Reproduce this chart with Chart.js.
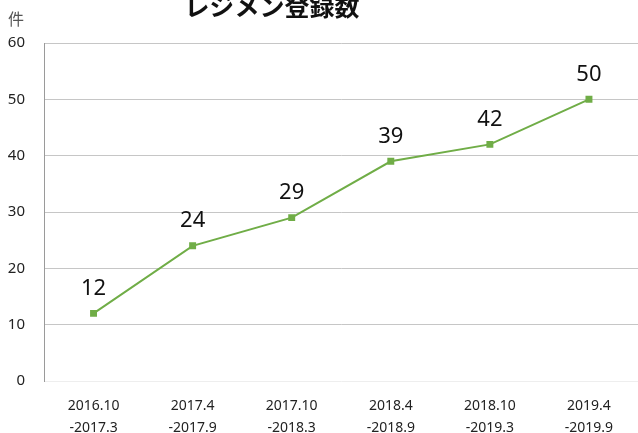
<!DOCTYPE html>
<html>
<head>
<meta charset="utf-8">
<script src="https://cdn.jsdelivr.net/npm/chart.js@4/dist/chart.umd.min.js"></script>
<style>
  html, body { margin: 0; padding: 0; background: #fff; overflow: hidden; }
  #wrap { position: absolute; left: 0; top: 0; width: 644px; height: 433px; }
</style>
</head>
<body>
<div id="wrap"><canvas id="regimen-chart"></canvas></div>
<script>
// 半期ごとのレジメン登録数
const periods = [
    ["2016.10", "-2017.3"],
    ["2017.4", "-2017.9"],
    ["2017.10", "-2018.3"],
    ["2018.4", "-2018.9"],
    ["2018.10", "-2019.3"],
    ["2019.4", "-2019.9"]
];
const counts = [12, 24, 29, 39, 42, 50];
const yTicks = [0, 10, 20, 30, 40, 50, 60];

const FONT = "'Noto Sans', 'Noto Sans CJK JP', sans-serif";

// 各点の上に値を描く
const valueLabels = {
    id: "valueLabels",
    afterDatasetsDraw(chart) {
        const ctx = chart.ctx;
        const meta = chart.getDatasetMeta(0);
        ctx.save();
        ctx.font = "22px " + FONT;
        ctx.fillStyle = "#111";
        ctx.textAlign = "center";
        ctx.textBaseline = "middle";
        meta.data.forEach(function (pt, i) {
            ctx.fillText(String(counts[i]), pt.x, pt.y - 25);
        });
        ctx.restore();
    }
};

// タイトルと単位
const headerText = {
    id: "headerText",
    afterDraw(chart) {
        const ctx = chart.ctx;
        ctx.save();
        ctx.textAlign = "center";
        ctx.textBaseline = "middle";
        ctx.fillStyle = "#111";
        ctx.font = "bold 25px 'Noto Sans CJK JP', sans-serif";
        ctx.fillText("レジメン登録数", 272, 6);
        ctx.fillStyle = "#555";
        ctx.font = "16px 'Noto Sans CJK JP', sans-serif";
        ctx.fillText("件", 16, 19);
        ctx.restore();
    }
};

const ctx = document.getElementById("regimen-chart").getContext("2d");
new Chart(ctx, {
    type: "line",
    data: {
        labels: periods,
        datasets: [{
            data: counts,
            borderColor: "#70ad47",
            backgroundColor: "#70ad47",
            borderWidth: 2,
            pointStyle: "rect",
            pointRadius: 3.5,
            pointHoverRadius: 3.5,
            tension: 0
        }]
    },
    options: {
        responsive: true,
        maintainAspectRatio: false,
        animation: false,
        layout: { padding: { top: 43, right: 0, left: 0, bottom: 0 } },
        plugins: {
            legend: { display: false },
            title: { display: false },
            tooltip: { enabled: false }
        },
        scales: {
            x: {
                offset: true,
                grid: { display: false, drawTicks: false },
                border: { display: false },
                ticks: {
                    color: "#222",
                    font: { family: FONT, size: 14, lineHeight: 1.55 },
                    padding: 14,
                    maxRotation: 0
                },
                afterFit(scale) { scale.height = 52; }
            },
            y: {
                min: 0,
                max: 60,
                afterBuildTicks(scale) {
                    scale.ticks = yTicks.map(function (v) { return { value: v }; });
                },
                grid: {
                    drawTicks: false,
                    color(c) { return c.tick.value === 0 ? "#eeeeee" : "#c6c6c6"; },
                    lineWidth: 1
                },
                border: { display: true, color: "#9a9a9a", width: 1 },
                ticks: {
                    color: "#222",
                    font: { family: FONT, size: 15 },
                    padding: 19
                },
                afterFit(scale) { scale.width = 44; }
            }
        }
    },
    plugins: [valueLabels, headerText]
});
</script>
</body>
</html>
